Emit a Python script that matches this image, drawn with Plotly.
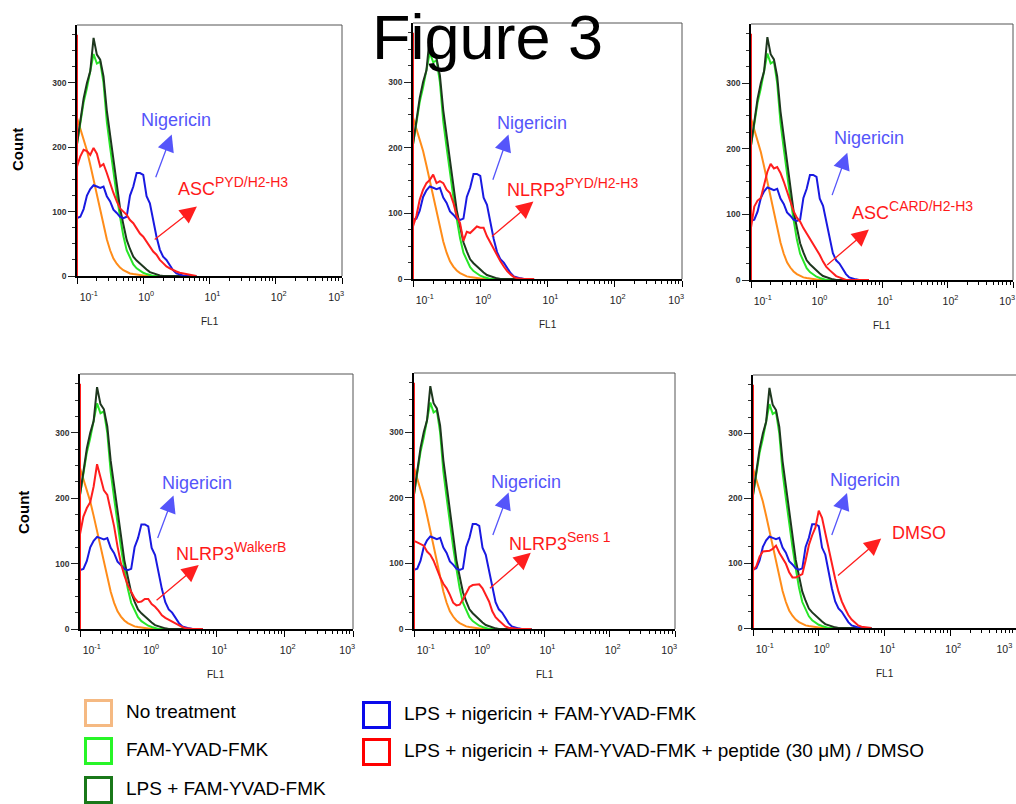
import plotly.graph_objects as go

# ---------------- data ----------------
# FL1 channel positions as log10 exponents (10^-1 ... 10^0.8)
fl1_exp = [-1.00, -0.95, -0.90, -0.85, -0.80, -0.75, -0.70, -0.65, -0.60, -0.55,
           -0.50, -0.45, -0.40, -0.35, -0.30, -0.25, -0.20, -0.15, -0.10, -0.05,
           0.00, 0.05, 0.10, 0.15, 0.20, 0.25, 0.30, 0.35, 0.40, 0.45,
           0.50, 0.55, 0.60, 0.65, 0.70, 0.75, 0.80]

no_treatment = [246, 230, 214, 195, 173, 149, 128, 106, 80, 57,
                40, 27, 19, 13, 9, 6, 4, 3, 2, 1,
                0, 0, 0, 0, 0, 0, 0, 0, 0, 0,
                0, 0, 0, 0, 0, 0, 0]
fam_yvad = [205, 238, 270, 292, 318, 345, 330, 333, 300, 240,
            200, 160, 125, 92, 62, 40, 28, 18, 12, 8,
            5, 3, 1, 0, 0, 0, 0, 0, 0, 0,
            0, 0, 0, 0, 0, 0, 0]
lps_fam = [205, 240, 276, 300, 318, 370, 344, 336, 310, 257,
           218, 180, 139, 105, 80, 56, 42, 30, 24, 19,
           15, 10, 6, 4, 2, 1, 0, 0, 0, 0,
           0, 0, 0, 0, 0, 0, 0]
lps_nig = [90, 92, 104, 125, 135, 141, 139, 137, 139, 124,
           116, 103, 98, 92, 90, 92, 125, 139, 160, 160,
           157, 124, 113, 87, 61, 41, 30, 25, 17, 9,
           4, 2, 1, 0, 0, 0, 0]

# peptide / DMSO treated (red), one per panel
red_asc_pyd = [170, 186, 196, 194, 188, 199, 190, 170, 174, 160,
               144, 129, 116, 105, 100, 95, 87, 82, 74, 66,
               61, 53, 46, 38, 33, 25, 20, 15, 12, 9,
               7, 5, 4, 3, 2, 1, 0]
red_nlrp3_pyd = [80, 96, 121, 136, 146, 151, 159, 146, 149, 146,
                 136, 131, 116, 96, 85, 58, 72, 70, 75, 80,
                 78, 78, 65, 55, 45, 35, 27, 19, 12, 7,
                 3, 1, 0, 0, 0, 0, 0]
red_asc_card = [80, 112, 121, 125, 145, 165, 177, 170, 172, 163,
                150, 136, 120, 105, 95, 89, 79, 71, 63, 53,
                46, 38, 28, 20, 15, 10, 6, 4, 2, 0,
                0, 0, 0, 0, 0, 0, 0]
red_walkerb = [145, 172, 185, 194, 218, 252, 232, 212, 205, 180,
               157, 126, 100, 82, 67, 57, 47, 41, 42, 46,
               46, 38, 34, 28, 21, 17, 14, 11, 8, 5,
               3, 1, 0, 0, 0, 0, 0]
red_sens1 = [134, 132, 130, 127, 118, 113, 104, 90, 79, 69,
             62, 52, 40, 36, 37, 45, 55, 64, 67, 67,
             68, 62, 52, 42, 27, 18, 13, 8, 4, 2,
             1, 0, 0, 0, 0, 0, 0]
red_dmso = [89, 95, 110, 118, 118, 119, 122, 127, 116, 107,
            99, 86, 78, 78, 81, 83, 104, 128, 143, 155,
            181, 170, 146, 122, 102, 76, 56, 41, 30, 20,
            13, 8, 4, 2, 1, 0, 0]
red_edge_count = 375  # pile-up at the lowest channel

red_series = [red_asc_pyd, red_nlrp3_pyd, red_asc_card,
              red_walkerb, red_sens1, red_dmso]
red_main = ["ASC", "NLRP3", "ASC", "NLRP3", "NLRP3", "DMSO"]
red_sup = ["PYD/H2-H3", "PYD/H2-H3", "CARD/H2-H3", "WalkerB", "Sens 1", ""]

x_tick_vals = [0.1, 1, 10, 100, 1000]
x_tick_text = ["10<sup>-1</sup>", "10<sup>0</sup>", "10<sup>1</sup>",
               "10<sup>2</sup>", "10<sup>3</sup>"]
y_tick_vals = [0, 100, 200, 300]

legend_labels = ["No treatment", "FAM-YVAD-FMK", "LPS + FAM-YVAD-FMK",
                 "LPS + nigericin + FAM-YVAD-FMK",
                 "LPS + nigericin + FAM-YVAD-FMK + peptide (30 \u03bcM) / DMSO"]

# ---------------- styling / layout ----------------
C_ORANGE = "rgb(255,140,25)"
C_GREEN = "rgb(40,230,40)"
C_DKGREEN = "rgb(30,55,30)"
C_BLUE = "rgb(25,25,225)"
C_RED = "rgb(255,30,30)"
C_NIG = "rgb(85,85,250)"
C_LBL = "rgb(255,25,25)"
FONT = "Arial, Liberation Sans, sans-serif"
NB = "\u00a0"


def tick_text_disp(right_pad):
    # edge tick labels sit inside the frame, as in the reference
    return [NB * 6 + x_tick_text[0]] + x_tick_text[1:-1] + [x_tick_text[-1] + NB * right_pad]


W, H = 1016, 804
# panel frames in pixels: (left, right, top, bottom)
panels_px = [(77, 342, 25, 276), (413, 682, 23, 279), (751, 1013, 24, 280),
             (80, 353, 374, 629), (414, 675, 373, 629), (753, 1016, 375, 628)]

# annotation anchors in data coords (log10 x, count y)
nig_text = [(0.50, 243), (0.77, 237), (0.80, 217), (0.72, 224), (0.72, 224), (0.70, 228)]
nig_arrow = [((0.18, 151), (0.43, 220)), ((0.18, 149), (0.42, 220)),
             ((0.23, 127), (0.47, 194)), ((0.13, 137), (0.37, 204)),
             ((0.20, 141), (0.45, 208)), ((0.19, 141), (0.43, 208))]
red_text = [(0.50, 139), (0.37, 139), (0.51, 106), (0.38, 119), (0.43, 134), (1.09, 146)]
red_arrow = [((0.15, 55), (0.81, 108)), ((0.15, 63), (0.79, 118)),
             ((0.14, 21), (0.80, 77)), ((0.10, 42), (0.74, 98)),
             ((0.14, 60), (0.79, 116)), ((0.27, 79), (0.95, 138))]

fig = go.Figure()
x_vals = [10 ** e for e in fl1_exp]
x_red = [10 ** fl1_exp[0], 10 ** fl1_exp[0]] + x_vals

annotations = []
shapes = []
layout_axes = {}

for i in range(6):
    n = i + 1
    xa = "x" if n == 1 else f"x{n}"
    ya = "y" if n == 1 else f"y{n}"
    L, R, T, B = panels_px[i]
    series = [(no_treatment, C_ORANGE), (fam_yvad, C_GREEN), (lps_fam, C_DKGREEN),
              (lps_nig, C_BLUE)]
    for ys, col in series:
        fig.add_trace(go.Scatter(x=x_vals, y=ys, mode="lines", xaxis=xa, yaxis=ya,
                                 line=dict(color=col, width=2), showlegend=False,
                                 hoverinfo="skip"))
    fig.add_trace(go.Scatter(x=x_red, y=[0, red_edge_count] + red_series[i],
                             mode="lines", xaxis=xa, yaxis=ya,
                             line=dict(color=C_RED, width=2), showlegend=False,
                             hoverinfo="skip"))

    layout_axes["xaxis" if n == 1 else f"xaxis{n}"] = dict(
        domain=[L / W, R / W], anchor=ya, type="log", range=[-1, 3],
        automargin=False, ticklabeloverflow="allow",
        showgrid=False, zeroline=False, showline=True, linecolor="black",
        linewidth=2, ticks="outside", ticklen=6, tickwidth=1.3, tickcolor="black",
        tickvals=x_tick_vals, ticktext=tick_text_disp(10 if i == 5 else 6),
        ticklabelstandoff=4, ticklabelshift=3,
        tickfont=dict(family=FONT, size=10.5, color="#222"),
        minor=dict(ticks="outside", ticklen=3, tickwidth=1, tickcolor="black",
                   tickvals=[m * 10 ** d for d in range(-1, 3) for m in range(2, 10)]),
    )
    layout_axes["yaxis" if n == 1 else f"yaxis{n}"] = dict(
        domain=[1 - B / H, 1 - T / H], anchor=xa, range=[0, 390],
        automargin=False,
        showgrid=False, zeroline=False, showline=True, linecolor="black",
        linewidth=1.5, ticks="outside", ticklen=7, tickwidth=1.3, tickcolor="#222",
        tickvals=y_tick_vals,
        tickfont=dict(family=FONT, size=8.5, color="#333", weight="bold"),
        minor=dict(ticks="outside", ticklen=3, tickwidth=1, tickcolor="#333", dtick=25),
    )
    # frame top and right
    shapes.append(dict(type="line", xref=f"{xa} domain", yref=f"{ya} domain",
                       x0=0, x1=1, y0=1, y1=1, line=dict(color="#555", width=1)))
    if i != 5:
        shapes.append(dict(type="line", xref=f"{xa} domain", yref=f"{ya} domain",
                           x0=1, x1=1, y0=0, y1=1, line=dict(color="#555", width=1)))
    # FL1 label
    annotations.append(dict(text="FL1", xref=f"{xa} domain", yref="paper",
                            x=0.5, y=1 - (B + 45) / H, xanchor="center", yanchor="middle",
                            showarrow=False,
                            font=dict(family=FONT, size=10, color="#222")))
    # Nigericin label + arrow
    annotations.append(dict(text="Nigericin", xref=xa, yref=ya,
                            x=nig_text[i][0], y=nig_text[i][1], showarrow=False,
                            xanchor="center", yanchor="middle",
                            font=dict(family=FONT, size=18, color=C_NIG)))
    (tx, ty), (hx, hy) = nig_arrow[i]
    annotations.append(dict(text="", xref=xa, yref=ya, axref=xa, ayref=ya,
                            x=hx, y=hy, ax=tx, ay=ty, showarrow=True, arrowhead=2,
                            arrowsize=2.6, arrowwidth=1.3, arrowcolor=C_NIG, standoff=0))
    # red label + arrow
    lbl = red_main[i]
    if red_sup[i]:
        lbl += f"<sup><span style='font-size:14px'>{red_sup[i]}</span></sup>"
    annotations.append(dict(text=lbl, xref=xa, yref=ya,
                            x=red_text[i][0], y=red_text[i][1], xanchor="left",
                            yanchor="middle", showarrow=False,
                            font=dict(family=FONT, size=18, color=C_LBL)))
    (tx, ty), (hx, hy) = red_arrow[i]
    annotations.append(dict(text="", xref=xa, yref=ya, axref=xa, ayref=ya,
                            x=hx, y=hy, ax=tx, ay=ty, showarrow=True, arrowhead=2,
                            arrowsize=2.6, arrowwidth=1.3, arrowcolor=C_RED, standoff=0))

# Count labels
for (cx, cy) in [(17, 150), (23, 513)]:
    annotations.append(dict(text="<b>Count</b>", xref="paper", yref="paper",
                            x=cx / W, y=1 - cy / H, textangle=-90, showarrow=False,
                            xanchor="center", yanchor="middle",
                            font=dict(family=FONT, size=15, color="black")))

# Title
annotations.append(dict(text="Figure 3", xref="paper", yref="paper", x=487 / W,
                        y=1 - 37 / H, xanchor="center", yanchor="middle", showarrow=False,
                        font=dict(family=FONT, size=63, color="black")))

# Legend (hollow boxes + text)
legend_pos = [(84, 699), (84, 737), (84, 776), (362, 701), (362, 738)]
legend_cols = ["rgb(245,185,130)", "rgb(40,245,40)", "rgb(25,120,25)",
               "rgb(10,10,235)", "rgb(255,0,0)"]
for (lx, ly), col, lab in zip(legend_pos, legend_cols, legend_labels):
    shapes.append(dict(type="rect", xref="paper", yref="paper",
                       x0=(lx + 1.5) / W, x1=(lx + 27.5) / W,
                       y0=1 - (ly + 26.5) / H, y1=1 - (ly + 1.5) / H,
                       line=dict(color=col, width=3), fillcolor="white"))
    annotations.append(dict(text=lab, xref="paper", yref="paper",
                            x=(lx + 40) / W, y=1 - (ly + 12) / H, xanchor="left",
                            yanchor="middle", showarrow=False,
                            font=dict(family=FONT, size=19, color="black")))

fig.update_layout(width=W, height=H, margin=dict(l=0, r=0, t=0, b=0, autoexpand=False),
                  paper_bgcolor="white", plot_bgcolor="white", showlegend=False,
                  annotations=annotations, shapes=shapes, **layout_axes)

fig.write_html("out.html")
